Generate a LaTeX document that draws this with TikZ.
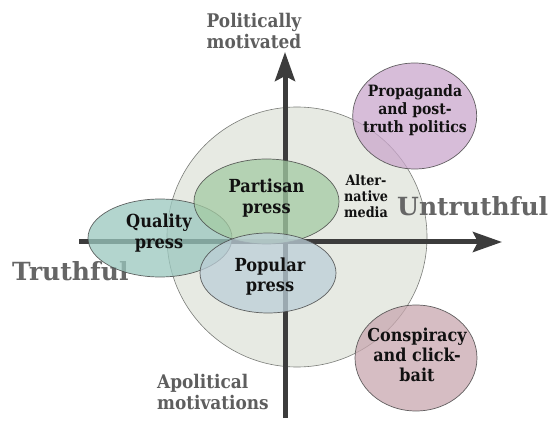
\documentclass[tikz,border=0pt]{standalone}
\usepackage{fontspec}
\setmainfont{DejaVu Serif Condensed}
\newfontfamily\wideserif{DejaVu Serif}
\usetikzlibrary{arrows.meta}
\definecolor{axis}{HTML}{3C3C3C}
\definecolor{lbl}{HTML}{5E5E5E}
\definecolor{big}{HTML}{E7EAE3}
\definecolor{bigline}{HTML}{7A7C78}
\definecolor{partc}{HTML}{A4CBA3}
\definecolor{qualc}{HTML}{9AC7BE}
\definecolor{popc}{HTML}{BCCED7}
\definecolor{propc}{HTML}{CAA7CC}
\definecolor{consc}{HTML}{C8A7AF}
\definecolor{ink}{HTML}{111111}
\tikzset{
  blob/.style={draw=black!75, line width=0.7pt, fill opacity=0.75, draw opacity=0.8},
  axisline/.style={draw=axis, line width=5pt, -{Stealth[length=29pt,width=20pt,inset=5pt]}},
  axlbl/.style={text=lbl, font=\bfseries\fontsize{18.8}{21.5}\selectfont, inner sep=0pt},
  bigl/.style={text=lbl!95!white, font=\wideserif\bfseries\fontsize{25}{28}\selectfont, inner sep=0pt},
  inlbl/.style={text=ink, font=\bfseries\fontsize{18}{21}\selectfont, inner sep=0pt, align=center},
}
\begin{document}
\begin{tikzpicture}[x=1pt,y=-1pt]
\useasboundingbox (0,0) rectangle (552,422);
% big circle
\draw[fill=big, draw=bigline, line width=0.6pt] (297,237) circle [radius=130];
% labels under the ellipses
\node[bigl, anchor=base west] (truth) at (12,281) {Truthful};
\node[bigl, anchor=base west] (untruth) at (397,216) {Untruthful};
% axes
\coordinate (xs) at (79,242);
\coordinate (xe) at (502,242);
\coordinate (ys) at (285,418);
\coordinate (ye) at (285,52);
\draw[axisline] (xs) -- (xe);
\draw[axisline] (ys) -- (ye);
% ellipses
\path[blob, fill=qualc] (160,238) ellipse [x radius=72, y radius=39];
\path[blob, fill=partc] (266.5,201.5) ellipse [x radius=72.5, y radius=42.5];
\path[blob, fill=popc] (268,273) ellipse [x radius=68, y radius=40];
\path[blob, fill=propc] (414.7,116) ellipse [x radius=62, y radius=53];
\path[blob, fill=consc] (416,358) ellipse [x radius=61, y radius=53];
% texts
\node[axlbl, align=center] (pol) at (254,31) {Politically\\motivated};
\node[axlbl, align=left, anchor=west] (apol) at (157,392) {Apolitical\\motivations};
\node[inlbl] (part) at (266.5,198) {Partisan\\press};
\node[inlbl] (qual) at (159,233) {Quality\\press};
\node[inlbl, font=\bfseries\fontsize{18}{20}\selectfont] (pop) at (270,277) {Popular\\press};
\node[inlbl, font=\bfseries\fontsize{15.6}{18}\selectfont] (prop) at (415,110) {Propaganda\\and post-\\truth politics};
\node[inlbl, font=\bfseries\fontsize{17.8}{20}\selectfont] (cons) at (417,355) {Conspiracy\\and click-\\bait};
\node[inlbl, font=\bfseries\fontsize{14.2}{16}\selectfont] (alt) at (366,196) {Alter-\\native\\media};
\end{tikzpicture}
\end{document}
